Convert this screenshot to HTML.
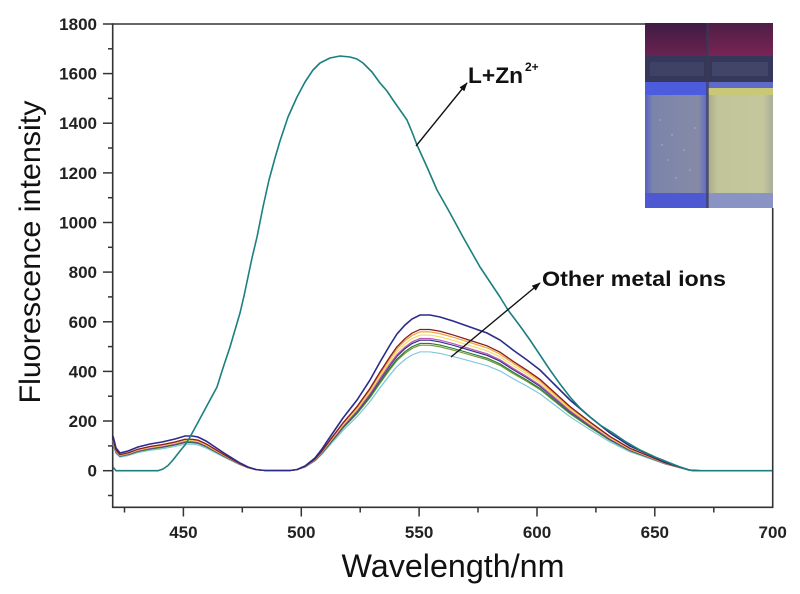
<!DOCTYPE html>
<html><head><meta charset="utf-8"><style>
html,body{margin:0;padding:0;background:#fff;}
svg{display:block;}
</style></head><body>
<svg width="800" height="594" viewBox="0 0 800 594" xmlns="http://www.w3.org/2000/svg">
<defs>
<marker id="ah" viewBox="0 0 10 10" refX="9" refY="5" markerWidth="9" markerHeight="9" markerUnits="userSpaceOnUse" orient="auto">
<path d="M0,1.5 L10,5 L0,8.5 z" fill="#111"/>
</marker>
<linearGradient id="capL" x1="0" y1="0" x2="0" y2="1"><stop offset="0" stop-color="#3e1c44"/><stop offset="1" stop-color="#6a2250"/></linearGradient>
<linearGradient id="capR" x1="0" y1="0" x2="0" y2="1"><stop offset="0" stop-color="#4e1e46"/><stop offset="1" stop-color="#7a2454"/></linearGradient>
<linearGradient id="bodyL" x1="0" y1="0" x2="1" y2="0"><stop offset="0" stop-color="#5560c4"/><stop offset="0.12" stop-color="#7c84ac"/><stop offset="0.85" stop-color="#858aa6"/><stop offset="1" stop-color="#5a66c8"/></linearGradient>
<linearGradient id="bodyR" x1="0" y1="0" x2="1" y2="0"><stop offset="0" stop-color="#a8ac8c"/><stop offset="0.15" stop-color="#c2c49a"/><stop offset="0.85" stop-color="#c4c69c"/><stop offset="1" stop-color="#a8ae9a"/></linearGradient>
</defs>

<!-- photo inset -->
<g>
<rect x="645" y="23" width="128" height="185" fill="#2c2a4a"/>
<rect x="645" y="23" width="63" height="33" fill="url(#capL)"/>
<rect x="708" y="23" width="65" height="33" fill="url(#capR)"/>
<rect x="645" y="56" width="128" height="27" fill="#35385a"/>
<rect x="650" y="62" width="54" height="14" fill="#3e4266"/>
<rect x="712" y="62" width="56" height="14" fill="#42456a"/>
<rect x="645" y="82" width="63" height="13" fill="#4c5cdc"/>
<rect x="708" y="82" width="65" height="6" fill="#5e6cc8"/>
<rect x="708" y="88" width="65" height="7" fill="#c8c878"/>
<rect x="645" y="95" width="63" height="99" fill="url(#bodyL)"/>
<rect x="708" y="95" width="65" height="99" fill="url(#bodyR)"/>
<rect x="645" y="193" width="63" height="15" fill="#4e58d0"/>
<rect x="708" y="193" width="65" height="15" fill="#8a94c4"/>
<rect x="706" y="23" width="3" height="185" fill="#3a3a58" opacity="0.6"/>
<g fill="#a4aacc" opacity="0.7">
<circle cx="660" cy="120" r="1"/><circle cx="672" cy="135" r="1"/><circle cx="684" cy="150" r="1"/><circle cx="668" cy="160" r="1"/><circle cx="690" cy="170" r="1"/><circle cx="676" cy="178" r="1"/><circle cx="695" cy="128" r="1"/><circle cx="662" cy="145" r="1"/>
</g>
</g>

<!-- axes frame -->
<g stroke="#333" stroke-width="1.6" fill="none">
<line x1="112.7" y1="24" x2="645" y2="24"/>
<line x1="112.7" y1="23.2" x2="112.7" y2="507.3"/>
<line x1="111.9" y1="507.3" x2="773.5" y2="507.3"/>
<line x1="772.7" y1="208" x2="772.7" y2="508"/>
</g>

<!-- y ticks -->
<g stroke="#333" stroke-width="1.5">
<line x1="103" y1="24" x2="112.7" y2="24"/>
<line x1="108" y1="48.8" x2="112.7" y2="48.8"/>
<line x1="103" y1="73.6" x2="112.7" y2="73.6"/>
<line x1="108" y1="98.4" x2="112.7" y2="98.4"/>
<line x1="103" y1="123.2" x2="112.7" y2="123.2"/>
<line x1="108" y1="148.0" x2="112.7" y2="148.0"/>
<line x1="103" y1="172.9" x2="112.7" y2="172.9"/>
<line x1="108" y1="197.7" x2="112.7" y2="197.7"/>
<line x1="103" y1="222.5" x2="112.7" y2="222.5"/>
<line x1="108" y1="247.3" x2="112.7" y2="247.3"/>
<line x1="103" y1="272.1" x2="112.7" y2="272.1"/>
<line x1="108" y1="296.9" x2="112.7" y2="296.9"/>
<line x1="103" y1="321.8" x2="112.7" y2="321.8"/>
<line x1="108" y1="346.6" x2="112.7" y2="346.6"/>
<line x1="103" y1="371.4" x2="112.7" y2="371.4"/>
<line x1="108" y1="396.2" x2="112.7" y2="396.2"/>
<line x1="103" y1="421.0" x2="112.7" y2="421.0"/>
<line x1="108" y1="445.9" x2="112.7" y2="445.9"/>
<line x1="103" y1="470.7" x2="112.7" y2="470.7"/>
<line x1="108" y1="495.5" x2="112.7" y2="495.5"/>
</g>
<!-- x ticks -->
<g stroke="#333" stroke-width="1.5">
<line x1="124.5" y1="507.3" x2="124.5" y2="512.5"/>
<line x1="183.4" y1="507.3" x2="183.4" y2="516.5"/>
<line x1="242.3" y1="507.3" x2="242.3" y2="512.5"/>
<line x1="301.3" y1="507.3" x2="301.3" y2="516.5"/>
<line x1="360.2" y1="507.3" x2="360.2" y2="512.5"/>
<line x1="419.1" y1="507.3" x2="419.1" y2="516.5"/>
<line x1="478.0" y1="507.3" x2="478.0" y2="512.5"/>
<line x1="537.0" y1="507.3" x2="537.0" y2="516.5"/>
<line x1="595.9" y1="507.3" x2="595.9" y2="512.5"/>
<line x1="654.8" y1="507.3" x2="654.8" y2="516.5"/>
<line x1="713.8" y1="507.3" x2="713.8" y2="512.5"/>
</g>

<!-- tick labels -->
<g font-family="Liberation Sans, Arial, sans-serif" font-weight="bold" font-size="17" fill="#222" text-anchor="end">
<text x="97" y="30">1800</text>
<text x="97" y="79.6">1600</text>
<text x="97" y="129.2">1400</text>
<text x="97" y="178.9">1200</text>
<text x="97" y="228.5">1000</text>
<text x="97" y="278.1">800</text>
<text x="97" y="327.8">600</text>
<text x="97" y="377.4">400</text>
<text x="97" y="427">200</text>
<text x="97" y="476.7">0</text>
</g>
<g font-family="Liberation Sans, Arial, sans-serif" font-weight="bold" font-size="17" fill="#222" text-anchor="middle">
<text x="183.4" y="538">450</text>
<text x="301.3" y="538">500</text>
<text x="419.1" y="538">550</text>
<text x="537.0" y="538">600</text>
<text x="654.8" y="538">650</text>
<text x="772.7" y="538">700</text>
</g>

<!-- axis titles -->
<text x="453" y="577" font-family="Liberation Sans, Arial, sans-serif" font-size="32" fill="#111" text-anchor="middle" textLength="223" lengthAdjust="spacingAndGlyphs">Wavelength/nm</text>
<text transform="translate(40,252) rotate(-90)" x="0" y="0" font-family="Liberation Sans, Arial, sans-serif" font-size="30" fill="#111" text-anchor="middle" textLength="303" lengthAdjust="spacingAndGlyphs">Fluorescence intensity</text>

<!-- other metal ion curves (scaled copies of top curve) -->
<defs>
<polyline id="oc" fill="none" points="113,436 116,448 120,453 128,451 138,447 150,444 162,442 175,439 185,436 192,436 198,437 206,441 215,447 224,453 232,458 240,463 248,467 256,469.5 265,470.5 290,470.5 297,469.5 305,466 315,458 322,449 330,437 343,418 357,400 370,380 380,362 390,345 397,334 405,325 412,319 420,315 430,315 440,317 453,321 470,327 487,333 500,340 513,350 527,360 540,370 555,385 570,400 590,417 610,433 630,446 650,455 665,462 680,467 690,470.2 700,470.7"/>
</defs>
<g fill="none" stroke-width="1.4">
<use href="#oc" stroke="#7cc6dc" transform="matrix(1,0,0,0.763,0,111.55)" vector-effect="non-scaling-stroke"/>
<use href="#oc" stroke="#6c9a30" transform="matrix(1,0,0,0.806,0,91.3)" vector-effect="non-scaling-stroke"/>
<use href="#oc" stroke="#2e7d3a" transform="matrix(1,0,0,0.817,0,86.1)" vector-effect="non-scaling-stroke"/>
<use href="#oc" stroke="#33308c" transform="matrix(1,0,0,0.838,0,76.25)" vector-effect="non-scaling-stroke"/>
<use href="#oc" stroke="#c058b4" transform="matrix(1,0,0,0.849,0,71.08)" vector-effect="non-scaling-stroke"/>
<use href="#oc" stroke="#f2e070" transform="matrix(1,0,0,0.871,0,60.72)" vector-effect="non-scaling-stroke"/>
<use href="#oc" stroke="#f0a840" transform="matrix(1,0,0,0.892,0,50.84)" vector-effect="non-scaling-stroke"/>
<use href="#oc" stroke="#8b1c1c" transform="matrix(1,0,0,0.907,0,43.78)" vector-effect="non-scaling-stroke"/>
<use href="#oc" stroke="#2b2b8c" stroke-width="1.6"/>
</g>

<!-- L+Zn curve -->
<polyline fill="none" stroke="#1b7f80" stroke-width="1.6" stroke-linejoin="round" points="113,467 116,470.7 158,470.7 163,469 168,465.5 173,460 180,451 185,445 190,437 196,426 203,413 210,400 217,387 223,368 230,347 235,330 240,313 244,296 248,277 252,258 257,237 263,207 269,180 275,158 280,141 288,117 297,97 305,82 313,70 320,63 330,58 340,56 350,57 357,59 363,63 372,72 380,83 387,91 393,100 400,110 407,120 412,132 417,145 422,156 427,167 437,190 450,213 463,237 480,267 500,297 508,310 520,326 530,340 540,355 550,370 560,384 570,397 580,408 590,417 600,425 613,433 626,442 640,450 655,457 670,463 680,467 687,469.5 693,470.7 772,470.7"/>

<!-- annotations -->
<line x1="416" y1="146" x2="467" y2="83" stroke="#111" stroke-width="1.4" marker-end="url(#ah)"/>
<line x1="451" y1="357" x2="540" y2="283" stroke="#111" stroke-width="1.4" marker-end="url(#ah)"/>
<text x="468" y="83" font-family="Liberation Sans, Arial, sans-serif" font-weight="bold" font-size="22" fill="#111" textLength="55" lengthAdjust="spacingAndGlyphs">L+Zn</text>
<text x="525" y="71" font-family="Liberation Sans, Arial, sans-serif" font-weight="bold" font-size="12" fill="#111">2+</text>
<text x="542" y="286" font-family="Liberation Sans, Arial, sans-serif" font-weight="bold" font-size="21" fill="#111" textLength="184" lengthAdjust="spacingAndGlyphs">Other metal ions</text>
</svg>
</body></html>
